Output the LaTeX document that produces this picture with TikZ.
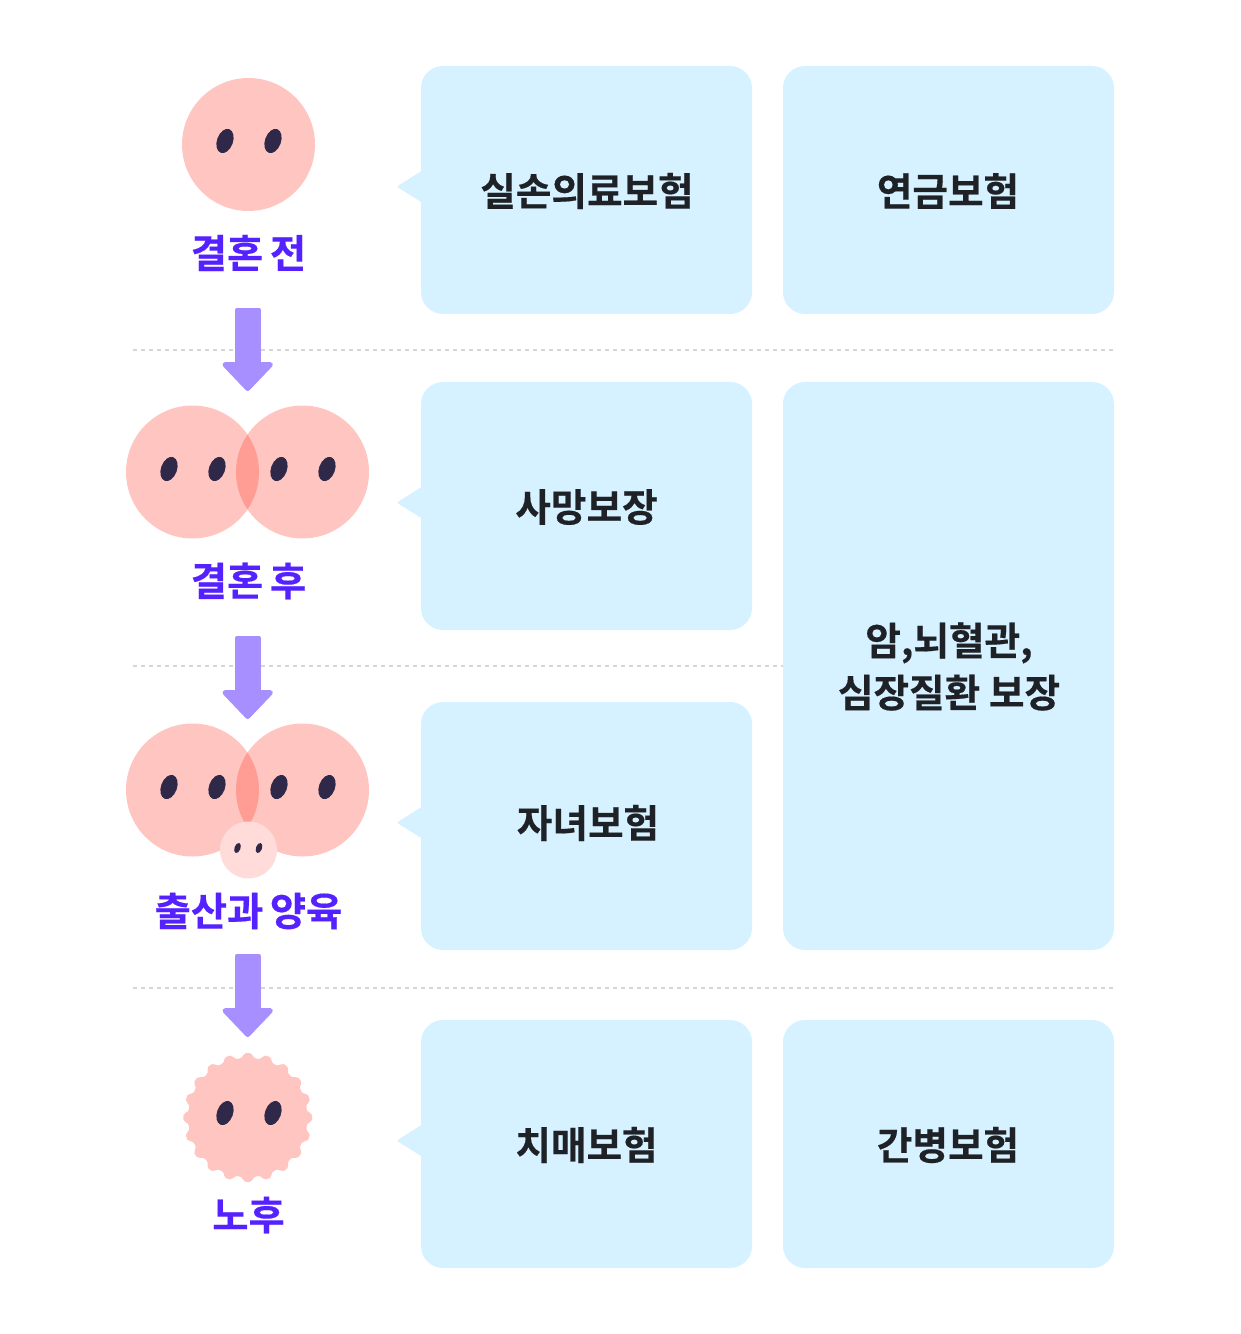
\documentclass[tikz,border=0pt]{standalone}
\usepackage{fontspec}
\usepackage{xcolor}
\usetikzlibrary{arrows.meta,shapes.geometric}
\setmainfont{Noto Sans CJK KR Bold}[RawFeature={embolden=0.4}]
\newfontfamily\stagefont{Noto Sans CJK KR Bold}[WordSpace=0.75,RawFeature={embolden=0.4}]
\definecolor{cardD1}{HTML}{D6F1FF}
\definecolor{faceD1}{HTML}{FFC6C1}
\definecolor{faceD2}{HTML}{FF9C94}
\definecolor{faceD3}{HTML}{FFDCD9}
\definecolor{eyeD1}{HTML}{2F2848}
\definecolor{stageD1}{HTML}{5522FF}
\definecolor{arrowD1}{HTML}{A78FFF}
\definecolor{textD1}{HTML}{1E2126}
\definecolor{lineD1}{HTML}{D6D6D6}
\def\px{0.02cm}
\tikzset{
  card/.style={fill=cardD1,rounded corners=0.44cm,inner sep=0pt,minimum width=331*\px,minimum height=#1*\px},
  card/.default=248,
  cardtext/.style={text=textD1,inner sep=0pt,align=center,font=\fontsize{22pt}{29.6pt}\selectfont},
  stagelabel/.style={text=stageD1,inner sep=0pt,font=\stagefont\fontsize{22.4pt}{28pt}\selectfont},
  eyedot/.style={ellipse,fill=eyeD1,inner sep=0pt,minimum width=16*\px,minimum height=25*\px,rotate=-20},
  babyeye/.style={ellipse,fill=eyeD1,inner sep=0pt,minimum width=6*\px,minimum height=10.5*\px,rotate=-20},
  lifearrow/.style={draw=arrowD1,line width=26*\px,
    {Square[length=0.16cm,width=0.52cm,round,line width=0.1cm]}-{Triangle[length=0.6cm,width=1.12cm,round,line width=0.1cm]}},
  sepline/.style={draw=lineD1,line width=2*\px,dash pattern=on 4*\px off 4*\px},
}
\newcommand{\pointer}[1]{\fill[cardD1,rounded corners=0.04cm] ([xshift=0.06cm,yshift=-2.08cm]#1.north west) -- ++(-27,17) -- ++(27,17) -- cycle;}
\begin{document}
\begin{tikzpicture}[x=0.02cm,y=-0.02cm]
\useasboundingbox (0,0) rectangle (1240,1334);
% separators
\coordinate (sepAs) at (133,350);\coordinate (sepAe) at (1115,350);
\coordinate (sepBs) at (133,666);\coordinate (sepBe) at (783,666);
\coordinate (sepCs) at (133,988);\coordinate (sepCe) at (1115,988);
\draw[sepline] (sepAs) -- (sepAe);
\draw[sepline] (sepBs) -- (sepBe);
\draw[sepline] (sepCs) -- (sepCe);
% cards
\node[card] (sil) at (586.5,190) {};
\node[card] (yeon) at (948.5,190) {};
\node[card] (sa) at (586.5,506) {};
\node[card=568] (am) at (948.5,666) {};
\node[card] (ja) at (586.5,826) {};
\node[card] (chi) at (586.5,1144) {};
\node[card] (gan) at (948.5,1144) {};
\pointer{sil}\pointer{sa}\pointer{ja}\pointer{chi}
\node[cardtext] (silT) at (587,191) {실손의료보험};
\node[cardtext] (yeonT) at (948,191) {연금보험};
\node[cardtext] (saT) at (586.5,507) {사망보장};
\node[cardtext] (amT) at (949,666.5) {암,뇌혈관,\\심장질환 보장};
\node[cardtext] (jaT) at (588,823) {자녀보험};
\node[cardtext] (chiT) at (586.5,1145) {치매보험};
\node[cardtext] (ganT) at (948,1145) {간병보험};
% stage one
\fill[faceD1] (248.5,144.5) circle[radius=66.5];
\foreach \x/\n in {225/a,273/b}{\node[eyedot] (eyeA\n) at (\x,141) {};}
\node[stagelabel] (stageA) at (248.5,253) {결혼 전};
% stage two and three
\foreach \y/\s in {472/B,790/C}{
  \fill[faceD1] (192.5,\y) circle[radius=66.5];
  \fill[faceD1] (302.5,\y) circle[radius=66.5];
  \begin{scope}
  \clip (192.5,\y) circle[radius=66.5];
  \fill[faceD2] (302.5,\y) circle[radius=66.5];
  \end{scope}
  \foreach \x/\n in {169/a,217/b,279/c,327/d}{\node[eyedot] (eye\s\n) at (\x,\y-3) {};}
}
\fill[faceD3] (248.5,850) circle[radius=28.5];
\node[babyeye] (babyA) at (237.5,848) {};
\node[babyeye] (babyB) at (259,848) {};
\node[stagelabel] (stageB) at (248.5,581) {결혼 후};
\node[stagelabel] (stageC) at (248.5,911) {출산과 양육};
% stage four
\fill[faceD1,shift={(247.8,1117.5)}] plot[smooth cycle,domain=0:358,samples=180,variable=\t] (\t:{62+2.8*cos(20*\t)-0.4*cos(60*(\t-180))});
\foreach \x/\n in {225/a,273/b}{\node[eyedot] (eyeD\n) at (\x,1113) {};}
\node[stagelabel] (stageD) at (248.5,1215) {노후};
% arrows
\coordinate (arrAs) at (247.7,308);\coordinate (arrAe) at (247.7,391);
\coordinate (arrBs) at (247.7,636);\coordinate (arrBe) at (247.7,719);
\coordinate (arrCs) at (247.7,954);\coordinate (arrCe) at (247.7,1037);
\draw[lifearrow] (arrAs) -- (arrAe);
\draw[lifearrow] (arrBs) -- (arrBe);
\draw[lifearrow] (arrCs) -- (arrCe);
\end{tikzpicture}
\end{document}
